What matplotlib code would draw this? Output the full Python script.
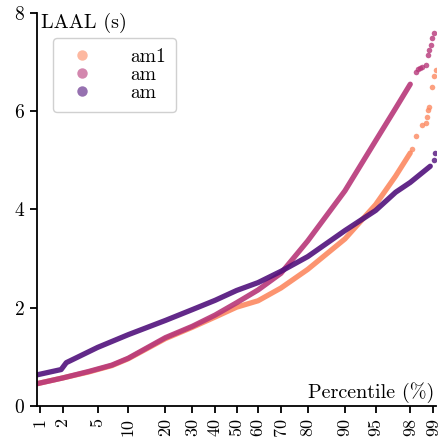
from statistics import NormalDist

import numpy as np
import matplotlib
matplotlib.use("Agg")
import matplotlib.pyplot as plt
from matplotlib.lines import Line2D

plt.rcParams['font.family'] = 'serif'
plt.rcParams['font.serif'] = ['cmr10', 'DejaVu Serif']
plt.rcParams['axes.formatter.use_mathtext'] = True
plt.rcParams['mathtext.fontset'] = 'cm'

# percentile tick labels on a probit axis
tick_pcts = [1, 2, 5, 10, 20, 30, 40, 50, 60, 70, 80, 90, 95, 98, 99]

labels = ['am1', 'am', 'am']
colors = ['#fc8961', '#b73779', '#51127c']

# dense part of each curve: percentile -> LAAL (s)
am1_pct = [0.9, 2, 4, 7, 10, 20, 30, 40, 50, 60, 70, 80, 90, 95, 97, 98]
am1_val = [0.45, 0.57, 0.69, 0.82, 0.96, 1.37, 1.60, 1.81, 2.01, 2.14, 2.40, 2.78, 3.40, 4.10, 4.68, 5.15]

am_a_pct = [0.9, 2, 4, 7, 10, 20, 30, 40, 50, 60, 70, 80, 90, 95, 97, 98]
am_a_val = [0.45, 0.57, 0.70, 0.83, 0.97, 1.39, 1.62, 1.85, 2.10, 2.36, 2.70, 3.36, 4.38, 5.40, 6.06, 6.55]

am_b_pct = [0.9, 1.9, 2.2, 5, 10, 20, 30, 40, 50, 60, 70, 80, 90, 95, 97, 98, 98.9]
am_b_val = [0.63, 0.74, 0.88, 1.19, 1.45, 1.74, 1.96, 2.15, 2.35, 2.51, 2.74, 3.04, 3.57, 3.98, 4.35, 4.55, 4.88]

# sparse tail points
am1_tail_pct = [98.1, 98.3, 98.58, 98.74, 98.78, 98.81, 98.85, 98.95, 99.01, 99.08]
am1_tail_val = [5.24, 5.49, 5.71, 5.76, 5.88, 6.02, 6.08, 6.50, 6.71, 6.84]

am_a_tail_pct = [98.3, 98.4, 98.5, 98.6, 98.74, 98.81, 98.85, 98.92, 98.95, 99.01]
am_a_tail_val = [6.80, 6.85, 6.88, 6.91, 6.94, 7.14, 7.24, 7.35, 7.50, 7.60]

am_b_tail_pct = [99.01, 99.05]
am_b_tail_val = [5.00, 5.14]

nd = NormalDist()


def probit(pcts):
    return np.array([nd.inv_cdf(p / 100.0) for p in pcts])


fig = plt.figure(figsize=(4.41, 4.48), dpi=100)
ax = fig.add_axes([0.084, 0.094, 0.905, 0.877])

series = [
    (am1_pct, am1_val, am1_tail_pct, am1_tail_val),
    (am_a_pct, am_a_val, am_a_tail_pct, am_a_tail_val),
    (am_b_pct, am_b_val, am_b_tail_pct, am_b_tail_val),
]
for (p, v, tp, tv), c in zip(series, colors):
    ax.plot(probit(p), v, color=c, lw=3.8, alpha=0.9, solid_capstyle='round')
    ax.scatter(probit(tp), tv, color=c, s=16, alpha=0.8, linewidths=0)

ax.set_xlim(-2.36, 2.36)
ax.set_ylim(0, 8)
ax.set_xticks(probit(tick_pcts))
ax.set_xticklabels([str(t) for t in tick_pcts], rotation=90)
ax.set_yticks([0, 2, 4, 6, 8])
ax.tick_params(width=1.3, length=5)
ax.tick_params(axis='y', labelsize=14)
ax.tick_params(axis='x', labelsize=13)
for s in ['top', 'right']:
    ax.spines[s].set_visible(False)
for s in ['left', 'bottom']:
    ax.spines[s].set_linewidth(1.3)

ax.text(0.01, 1.0, 'LAAL (s)', transform=ax.transAxes, ha='left', va='top', fontsize=14.5)
ax.text(0.995, 0.008, 'Percentile (%)', transform=ax.transAxes, ha='right', va='bottom', fontsize=14.5)

handles = [Line2D([], [], marker='o', ls='none', color=c, alpha=0.6, markersize=7.5,
                  markeredgewidth=0) for c in colors]
ax.legend(handles, labels, loc='upper left', bbox_to_anchor=(0.015, 0.96), fontsize=14,
          handletextpad=1.5, borderpad=0.5, labelspacing=0.0, framealpha=1, edgecolor='#d0d0d0')

fig.savefig('out.png', dpi=100)
